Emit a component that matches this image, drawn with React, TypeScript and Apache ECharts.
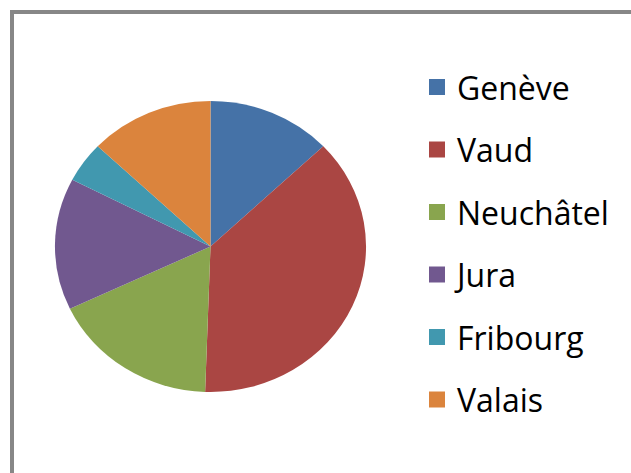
import React, { useEffect, useRef } from "react";
import * as echarts from "echarts";

const cantons = ["Genève", "Vaud", "Neuchâtel", "Jura", "Fribourg", "Valais"];
const shares = [12.9, 37.6, 17.4, 14.6, 4.5, 12.9];
const colors = ["#4572A7", "#AA4643", "#89A54E", "#71588F", "#4198AF", "#DB843D"];

export default function App() {
  const ref = useRef<HTMLDivElement>(null);
  useEffect(() => {
    if (!ref.current) return;
    const chart = echarts.init(ref.current, null, { renderer: "svg" });
    const total = shares.reduce((a, b) => a + b, 0);
    const cum: number[] = [];
    shares.reduce((acc, v, i) => {
      cum[i] = acc;
      return acc + v;
    }, 0);
    const cx = 210.5;
    const cy = 246.5;
    const ry = 145.5;
    const rx = 155.5;
    const series = cantons.map((name, i) => ({
      type: "custom",
      name,
      coordinateSystem: "none",
      data: [[shares[i]]],
      itemStyle: { color: colors[i] },
      renderItem: (params: any, api: any) => {
        const v = api.value(0);
        const start = -Math.PI / 2 + (2 * Math.PI * cum[params.seriesIndex]) / total;
        const end = start + (2 * Math.PI * v) / total;
        return {
          type: "sector",
          x: cx,
          y: cy,
          scaleX: rx / ry,
          shape: { cx: 0, cy: 0, r0: 0, r: ry, startAngle: start, endAngle: end, clockwise: true },
          style: { fill: api.visual("color") },
        };
      },
    }));
    chart.setOption({
      animation: false,
      backgroundColor: "#ffffff",
      graphic: [
        {
          type: "rect",
          shape: { x: 12, y: 12, width: 700, height: 600 },
          style: { fill: "none", stroke: "#878787", lineWidth: 4 },
          z: 10,
        },
      ],
      legend: {
        orient: "vertical",
        left: 429,
        top: 71,
        padding: 0,
        icon: "rect",
        itemWidth: 16,
        itemHeight: 16,
        itemGap: 30.5,
        selectedMode: false,
        data: cantons,
        textStyle: {
          fontFamily: "Open Sans",
          fontSize: 32,
          fontWeight: 500,
          lineHeight: 32,
          color: "#000000",
          padding: [0, 0, 0, 7],
        },
      },
      series,
    } as any);
    return () => chart.dispose();
  }, []);
  return (
    <div
      ref={ref}
      style={{ position: "fixed", left: 0, top: 0, width: 631, height: 473 }}
    />
  );
}
